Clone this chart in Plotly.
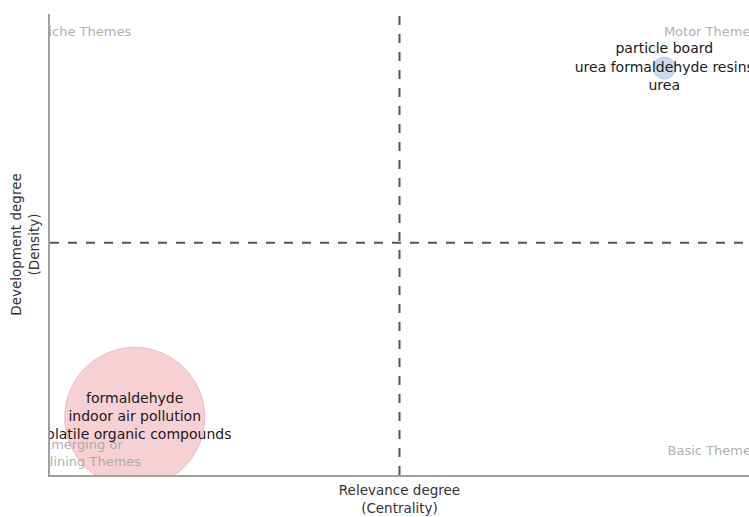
import plotly.graph_objects as go

# Cluster data
cluster_labels = [
    "formaldehyde<br>indoor air pollution<br>volatile organic compounds",
    "particle board<br>urea formaldehyde resins<br>urea",
]
centrality_rank = [1, 2]
density_rank = [1, 2]
cluster_freq = [40, 1]
cluster_fill = ["rgba(241,180,185,0.88)", "rgba(170,198,228,0.88)"]
cluster_line = ["rgba(228,150,156,0.9)", "rgba(150,182,218,0.9)"]

quadrant_texts = ["Niche Themes", "Motor Themes", "Emerging or<br>Declining Themes", "Basic Themes"]

xmid = sum(centrality_rank) / len(centrality_rank)
ymid = sum(density_rank) / len(density_rank)
dx = 0.66
dy = 0.66
xr = [xmid - dx, xmid + dx]
yr = [ymid - dy - 0.005, ymid + dy - 0.005]

fig = go.Figure()

# quadrant lines
fig.add_shape(type="line", x0=xmid, x1=xmid, y0=yr[0], y1=yr[1], xref="x", yref="y",
              line=dict(color="#555555", width=2, dash="dash"), layer="below")
fig.add_shape(type="line", x0=xr[0], x1=xr[1], y0=ymid, y1=ymid, xref="x", yref="y",
              line=dict(color="#555555", width=2, dash="dash"), layer="below")

sizeref = 2 * cluster_freq[0] / 140 ** 2
fig.add_trace(go.Scatter(
    x=centrality_rank, y=density_rank, mode="markers",
    marker=dict(size=cluster_freq, sizemode="area", sizeref=sizeref,
                color=cluster_fill, line=dict(color=cluster_line, width=1)),
    hoverinfo="skip", showlegend=False))

# quadrant labels (clipped to plot area)
w = xr[1] - xr[0]
h = yr[1] - yr[0]
qx = [xr[0] + 0.05 * w, xr[1] - 0.055 * w, xr[0] + 0.047 * w, xr[1] - 0.052 * w]
qy = [yr[1] - 0.04 * h, yr[1] - 0.04 * h, yr[0] + 0.045 * h, yr[0] + 0.05 * h]
fig.add_trace(go.Scatter(
    x=qx, y=qy, mode="text", text=quadrant_texts,
    textfont=dict(family="DejaVu Sans", size=13, color="rgba(165,165,165,0.9)"),
    hoverinfo="skip", showlegend=False, cliponaxis=True))

fig.add_trace(go.Scatter(
    x=centrality_rank, y=density_rank, mode="text", text=cluster_labels,
    textfont=dict(family="DejaVu Sans", size=14, color="#1a1a1a"),
    hoverinfo="skip", showlegend=False, cliponaxis=True))

fig.update_layout(
    width=749, height=517,
    margin=dict(l=50, r=0, t=14, b=42),
    plot_bgcolor="white", paper_bgcolor="white",
    font=dict(family="DejaVu Sans", size=12, color="#333333"),
    xaxis=dict(range=xr, showgrid=False, zeroline=False, showticklabels=False, ticks="",
               showline=True, linecolor="#a0a0a0", linewidth=1.5,
               title=dict(text="Relevance degree<br>(Centrality)", standoff=10,
                          font=dict(size=13.5, color="#333333"))),
    yaxis=dict(range=yr, showgrid=False, zeroline=False, showticklabels=False, ticks="",
               showline=True, linecolor="#a0a0a0", linewidth=1.5,
               title=dict(text="Development degree<br>(Density)", standoff=6,
                          font=dict(size=13.5, color="#333333"))),
)

fig.write_html("out.html")
